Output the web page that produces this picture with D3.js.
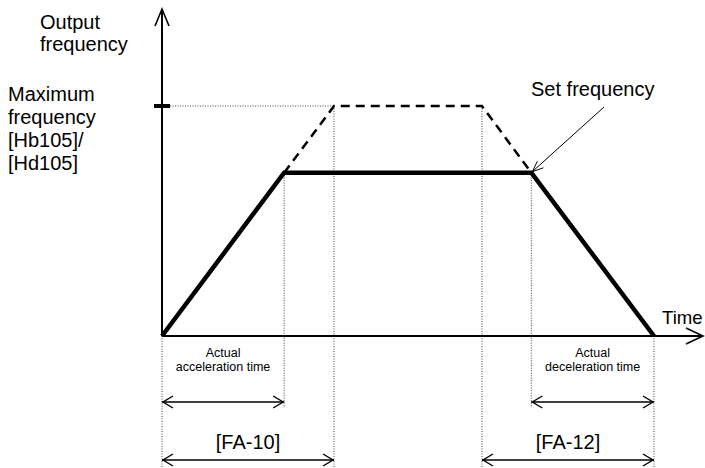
<!DOCTYPE html>
<html><head><meta charset="utf-8">
<script src="https://cdn.jsdelivr.net/npm/d3@7"></script>
<style>body{margin:0;background:#fff}svg{display:block}text{font-family:"Liberation Sans",Arial,sans-serif;fill:#000}</style>
</head><body><svg id="c" width="705" height="468"></svg>
<script>
// data (time units, frequency in % of max)
const maxFreq = 100;
const setFreq = 71;
const accelTime = 10;          // [FA-10]
const decelTime = 10;          // [FA-12]
const decelStart = 18.6;       // start of deceleration on max-frequency profile
const setProfile = [[0,0],[7.1,71],[21.47,71],[28.6,0]];
const maxProfile = [[7.1,71],[10,100],[18.6,100],[21.47,71]];
const yLabels = ["Maximum","frequency","[Hb105]/","[Hd105]"];

const svg = d3.select("#c");
const x = d3.scaleLinear().domain([0,31.45]).range([162,703]);
const y = d3.scaleLinear().domain([0,100]).range([336,106]);
const line = d3.line().x(d=>x(d[0])).y(d=>y(d[1]));

const tAccEnd = setProfile[1][0], tDecStart = setProfile[2][0], tEnd = setProfile[3][0];

// dotted guides
const dot = (x1,y1,x2,y2)=>svg.append("line").attr("x1",x1).attr("y1",y1).attr("x2",x2).attr("y2",y2)
  .attr("stroke","#444").attr("stroke-width",1).attr("stroke-dasharray","1,1.5");
dot(x(0)+8,y(maxFreq),x(accelTime),y(maxFreq));
dot(x(0),y(0),x(0),468);
dot(x(tAccEnd),y(setFreq),x(tAccEnd),408);
dot(x(accelTime),y(maxFreq),x(accelTime),468);
dot(x(decelStart),y(maxFreq),x(decelStart),468);
dot(x(tDecStart),y(setFreq),x(tDecStart),408);
dot(x(tEnd),y(0),x(tEnd),468);

// axes
svg.append("line").attr("x1",x(0)).attr("y1",y(0)).attr("x2",x(0)).attr("y2",9).attr("stroke","#000").attr("stroke-width",2);
svg.append("path").attr("d",`M${x(0)-7},26 L${x(0)},9 L${x(0)+7},26`).attr("fill","none").attr("stroke","#000").attr("stroke-width",1.6);
svg.append("line").attr("x1",x(0)).attr("y1",y(0)).attr("x2",703).attr("y2",y(0)).attr("stroke","#000").attr("stroke-width",2);
svg.append("path").attr("d",`M686,${y(0)-8} L703,${y(0)} L686,${y(0)+8}`).attr("fill","none").attr("stroke","#000").attr("stroke-width",1.6);
// max tick
svg.append("line").attr("x1",x(0)-8).attr("x2",x(0)+8).attr("y1",y(maxFreq)).attr("y2",y(maxFreq)).attr("stroke","#000").attr("stroke-width",4);

// profiles
svg.append("path").attr("d",line(maxProfile)).attr("fill","none").attr("stroke","#000").attr("stroke-width",2.5).attr("stroke-dasharray","9,6");
svg.append("path").attr("d",line(setProfile)).attr("fill","none").attr("stroke","#000").attr("stroke-width",4.5).attr("stroke-linejoin","miter");

// double arrows
function dbl(t1,t2,yy){
  const a=x(t1), b=x(t2);
  svg.append("line").attr("x1",a).attr("x2",b).attr("y1",yy).attr("y2",yy).attr("stroke","#000").attr("stroke-width",1.6);
  svg.append("path").attr("d",`M${a+11},${yy-6} L${a+1},${yy} L${a+11},${yy+6}`).attr("fill","none").attr("stroke","#000").attr("stroke-width",1.4);
  svg.append("path").attr("d",`M${b-11},${yy-6} L${b-1},${yy} L${b-11},${yy+6}`).attr("fill","none").attr("stroke","#000").attr("stroke-width",1.4);
}
dbl(0,tAccEnd,402);
dbl(0,accelTime,460);
dbl(tDecStart,tEnd,402);
dbl(decelStart,decelStart+decelTime,460);

// set frequency pointer
const px=x(tDecStart), py=y(setFreq);
svg.append("line").attr("x1",604).attr("y1",107).attr("x2",px+1).attr("y2",py-1).attr("stroke","#000").attr("stroke-width",1);
const ang=Math.atan2(py-107,px-604);
const ah=(a)=>[px-13*Math.cos(ang+a), py-13*Math.sin(ang+a)];
const p1=ah(0.35), p2=ah(-0.35);
svg.append("path").attr("d",`M${p1[0]},${p1[1]} L${px+1},${py-1} L${p2[0]},${p2[1]}`).attr("fill","none").attr("stroke","#000").attr("stroke-width",1);

// texts
const t=(s,xx,yy,fs,anchor)=>svg.append("text").attr("x",xx).attr("y",yy).attr("font-size",fs).attr("text-anchor",anchor||"start").text(s);
t("Output",40,29,20); t("frequency",40,51,20);
yLabels.forEach((s,i)=>t(s,8,101+i*23,20));
t("Set frequency",531,96,20);
t("Time",662,324,18.6);
t("Actual",(x(0)+x(tAccEnd))/2,357,12.5,"middle");
t("acceleration time",(x(0)+x(tAccEnd))/2,371,12.5,"middle");
t("Actual",(x(tDecStart)+x(tEnd))/2,357,12.5,"middle");
t("deceleration time",(x(tDecStart)+x(tEnd))/2,371,12.5,"middle");
t("[FA-10]",248,449,20,"middle");
t("[FA-12]",568,449,20,"middle");
</script></body></html>
